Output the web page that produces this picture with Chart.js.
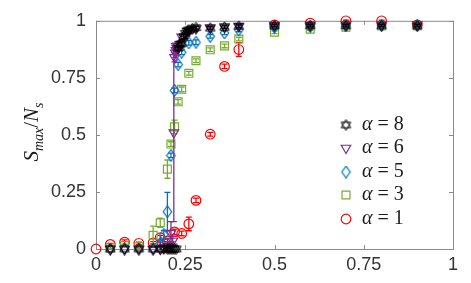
<!DOCTYPE html>
<html>
<head>
<meta charset="utf-8">
<script src="https://cdn.jsdelivr.net/npm/chart.js@4/dist/chart.umd.min.js"></script>
<style>
  html, body { margin: 0; padding: 0; background: #fff; }
  #wrap { width: 471px; height: 283px; }
</style>
</head>
<body>
<div id="wrap"><canvas id="grafico" width="471" height="283"></canvas></div>
<script>
// tick values (both axes)
const ticksX = [0, 0.25, 0.5, 0.75, 1];
const ticksY = [0, 0.25, 0.5, 0.75, 1];

// alpha = 8 (black hexagrams)
const x8 = [0.04, 0.08, 0.12, 0.16, 0.18, 0.19, 0.2, 0.205, 0.21, 0.215, 0.22, 0.225, 0.23, 0.235, 0.24, 0.245, 0.25, 0.255, 0.26, 0.27, 0.28, 0.32, 0.36, 0.4, 0.5, 0.6, 0.7, 0.8, 0.9];
const y8 = [0, 0, 0, 0, 0, 0, 0, 0, 0, 0, 0, 0, 0.88, 0.895, 0.9, 0.93, 0.945, 0.955, 0.96, 0.965, 0.97, 0.968, 0.972, 0.976, 0.978, 0.978, 0.978, 0.978, 0.978];
const e8 = [0, 0, 0, 0, 0, 0, 0, 0, 0, 0, 0, 0, 0.01, 0.01, 0.01, 0.01, 0.022, 0.008, 0.008, 0.006, 0.006, 0.006, 0.006, 0.006, 0.005, 0.005, 0.005, 0.005, 0.005];

// alpha = 6 (purple triangles)
const x6 = [0.04, 0.08, 0.12, 0.16, 0.18, 0.19, 0.2, 0.205, 0.21, 0.215, 0.218, 0.22, 0.222, 0.224, 0.226, 0.228, 0.24, 0.26, 0.28, 0.32, 0.36, 0.4, 0.5, 0.6, 0.7, 0.8, 0.9];
const y6 = [0, 0, 0, 0, 0, 0.005, 0.01, 0.02, 0.07, 0.035, 0.51, 0.84, 0.86, 0.87, 0.88, 0.89, 0.93, 0.955, 0.965, 0.97, 0.975, 0.977, 0.98, 0.982, 0.984, 0.984, 0.984];
const e6 = [0, 0, 0, 0, 0, 0, 0.01, 0.01, 0.05, 0.02, 0.39, 0.02, 0.02, 0.02, 0.02, 0.02, 0.01, 0.01, 0.01, 0.005, 0.005, 0.005, 0.005, 0.005, 0.005, 0.005, 0.005];

// alpha = 5 (blue diamonds)
const x5 = [0.04, 0.08, 0.12, 0.16, 0.18, 0.19, 0.2, 0.21, 0.22, 0.23, 0.24, 0.26, 0.28, 0.32, 0.36, 0.4, 0.5, 0.6, 0.7, 0.8, 0.9];
const y5 = [0, 0, 0, 0, 0.025, 0.062, 0.163, 0.41, 0.695, 0.808, 0.862, 0.903, 0.906, 0.932, 0.947, 0.96, 0.972, 0.975, 0.978, 0.98, 0.98];
const e5 = [0, 0, 0, 0, 0.01, 0.02, 0.085, 0.01, 0.01, 0.01, 0.01, 0.01, 0.01, 0.008, 0.008, 0.008, 0.005, 0.005, 0.005, 0.005, 0.005];

// alpha = 3 (green squares)
const x3 = [0.04, 0.08, 0.12, 0.16, 0.18, 0.2, 0.21, 0.22, 0.23, 0.24, 0.26, 0.28, 0.32, 0.36, 0.4, 0.5, 0.6, 0.7, 0.8, 0.9];
const y3 = [0.005, 0.015, 0.01, 0.06, 0.115, 0.35, 0.46, 0.535, 0.645, 0.7, 0.77, 0.825, 0.873, 0.89, 0.92, 0.95, 0.963, 0.972, 0.978, 0.978];
const e3 = [0.005, 0.005, 0.005, 0.04, 0.02, 0.04, 0.01, 0.03, 0.01, 0.01, 0.008, 0.008, 0.008, 0.008, 0.008, 0.006, 0.005, 0.005, 0.005, 0.005];

// alpha = 1 (red circles)
const x1 = [0, 0.04, 0.08, 0.12, 0.16, 0.18, 0.2, 0.22, 0.24, 0.26, 0.28, 0.32, 0.36, 0.4, 0.5, 0.6, 0.7, 0.8, 0.9];
const y1 = [0, 0.02, 0.03, 0.025, 0.027, 0.05, 0.035, 0.075, 0.068, 0.11, 0.213, 0.503, 0.8, 0.874, 0.982, 0.99, 1.0, 1.0, 0.982];
const e1 = [0, 0.005, 0.01, 0.005, 0.005, 0.01, 0.01, 0.012, 0.01, 0.03, 0.01, 0.008, 0.01, 0.03, 0.005, 0.005, 0.003, 0.003, 0.003];

const corPreto = "#000000", corRoxo = "#7e2f8e", corAzul = "#0072bd", corVerde = "#77ac30", corVermelho = "#ff0000";

function marcador(w, h, desenho) { // cria um pequeno canvas usado como pointStyle
    const c = document.createElement("canvas");
    c.width = w; c.height = h;
    const g = c.getContext("2d");
    desenho(g, w / 2, h / 2);
    return c;
}

const hexagrama = marcador(13, 13, (g, cx, cy) => {
    const r = 5.5;
    g.strokeStyle = corPreto; g.lineWidth = 1;
    [0, Math.PI].forEach(rot => {
        g.beginPath();
        for (let k = 0; k < 3; k++) {
            const a = rot - Math.PI / 2 + k * 2 * Math.PI / 3;
            const px = cx + r * Math.cos(a), py = cy + r * Math.sin(a);
            k === 0 ? g.moveTo(px, py) : g.lineTo(px, py);
        }
        g.closePath();
        g.stroke();
    });
});

const losango = marcador(11, 13, (g, cx, cy) => {
    g.strokeStyle = corAzul; g.lineWidth = 1.2;
    g.beginPath();
    g.moveTo(cx, cy - 5.8); g.lineTo(cx + 4.2, cy); g.lineTo(cx, cy + 5.8); g.lineTo(cx - 4.2, cy);
    g.closePath();
    g.stroke();
});

const pontos = (xs, ys) => xs.map((x, i) => ({ x: x, y: ys[i] }));

const series = [
    { label: "8", data: pontos(x8, y8), err: e8, borderColor: corPreto, pointStyle: hexagrama, pointRadius: 5.5, pointRotation: 0 },
    { label: "6", data: pontos(x6, y6), err: e6, borderColor: corRoxo, pointStyle: "triangle", pointRadius: 5.5, pointRotation: 180 },
    { label: "5", data: pontos(x5, y5), err: e5, borderColor: corAzul, pointStyle: losango, pointRadius: 5.5, pointRotation: 0 },
    { label: "3", data: pontos(x3, y3), err: e3, borderColor: corVerde, pointStyle: "rect", pointRadius: 5.6, pointRotation: 0 },
    { label: "1", data: pontos(x1, y1), err: e1, borderColor: corVermelho, pointStyle: "circle", pointRadius: 4.8, pointRotation: 0 }
];

const barrasErro = {
    id: "barrasErro",
    afterDatasetDraw(chart, args) {
        const ds = chart.data.datasets[args.index];
        if (!ds.err) return;
        const ys = chart.scales.y;
        const ctx = chart.ctx;
        ctx.save();
        ctx.strokeStyle = ds.borderColor;
        ctx.lineWidth = 1.3;
        args.meta.data.forEach((pt, i) => {
            const e = ds.err[i];
            if (!e) return;
            const v = ds.data[i].y;
            const topo = ys.getPixelForValue(v + e), base = ys.getPixelForValue(Math.max(v - e, 0));
            ctx.beginPath();
            ctx.moveTo(pt.x, topo); ctx.lineTo(pt.x, base);
            ctx.moveTo(pt.x - 3, topo); ctx.lineTo(pt.x + 3, topo);
            ctx.moveTo(pt.x - 3, base); ctx.lineTo(pt.x + 3, base);
            ctx.stroke();
        });
        ctx.restore();
    }
};

const moldura = {
    id: "moldura",
    beforeDatasetsDraw(chart) {
        const { ctx, chartArea: a, scales } = chart;
        ctx.save();
        ctx.strokeStyle = "#8a8a8a";
        ctx.lineWidth = 1;
        ctx.strokeRect(a.left + 0.5, a.top + 0.5, a.right - a.left, a.bottom - a.top);
        ctx.beginPath();
        ticksX.forEach(t => {
            const px = Math.round(scales.x.getPixelForValue(t)) + 0.5;
            ctx.moveTo(px, a.bottom); ctx.lineTo(px, a.bottom - 4);
            ctx.moveTo(px, a.top); ctx.lineTo(px, a.top + 4);
        });
        ticksY.forEach(t => {
            const py = Math.round(scales.y.getPixelForValue(t)) + 0.5;
            ctx.moveTo(a.left, py); ctx.lineTo(a.left + 4, py);
            ctx.moveTo(a.right, py); ctx.lineTo(a.right - 4, py);
        });
        ctx.stroke();
        ctx.restore();
    },
    afterDraw(chart) {
        const ctx = chart.ctx;
        ctx.save();
        // rótulo do eixo y: S_max / N_s
        ctx.translate(31, 132);
        ctx.rotate(-Math.PI / 2);
        ctx.fillStyle = "#1a1a1a";
        ctx.textBaseline = "alphabetic";
        const partes = [
            { t: "S", f: "italic 21px 'Liberation Serif'", dy: 0 },
            { t: "max", f: "italic 14px 'Liberation Serif'", dy: 5 },
            { t: "/", f: "21px 'Liberation Serif'", dy: 0 },
            { t: "N", f: "italic 21px 'Liberation Serif'", dy: 0 },
            { t: "s", f: "italic 14px 'Liberation Serif'", dy: 5 }
        ];
        let largura = 0;
        partes.forEach(p => { ctx.font = p.f; p.w = ctx.measureText(p.t).width; largura += p.w; });
        let cx = -largura / 2;
        partes.forEach(p => { ctx.font = p.f; ctx.fillText(p.t, cx, 7 + p.dy); cx += p.w; });
        ctx.restore();

        // legenda
        ctx.save();
        const linhas = [125, 148, 172, 195, 219];
        chart.data.datasets.forEach((ds, i) => {
            const y = linhas[i];
            ctx.strokeStyle = ds.borderColor;
            ctx.fillStyle = "rgba(0,0,0,0)";
            ctx.lineWidth = 1.2;
            Chart.helpers.drawPoint(ctx, { pointStyle: ds.pointStyle, radius: ds.pointRadius, rotation: ds.pointRotation, borderWidth: 1.2 }, 346, y);
            ctx.fillStyle = "#1a1a1a";
            ctx.textBaseline = "middle";
            ctx.font = "italic 20px 'Liberation Serif'";
            ctx.fillText("\u03b1", 362, y);
            const w = ctx.measureText("\u03b1").width;
            ctx.font = "20px 'Liberation Serif'";
            ctx.fillText(" = " + ds.label, 362 + w, y);
        });
        ctx.restore();
    }
};

const ctx = document.getElementById("grafico").getContext("2d");

new Chart(ctx, {
    type: "scatter",
    data: {
        datasets: series.map(s => ({
            label: s.label,
            data: s.data,
            err: s.err,
            borderColor: s.borderColor,
            backgroundColor: "rgba(0,0,0,0)",
            pointStyle: s.pointStyle,
            pointRadius: s.pointRadius,
            pointRotation: s.pointRotation,
            pointBorderWidth: 1.2,
            showLine: false,
            clip: false
        }))
    },
    options: {
        responsive: false,
        animation: false,
        layout: { padding: { top: 11, right: 18, left: 0, bottom: 0 } },
        plugins: { legend: { display: false }, tooltip: { enabled: false } },
        scales: {
            x: {
                type: "linear", min: 0, max: 1,
                afterBuildTicks: s => { s.ticks = ticksX.map(v => ({ value: v })); },
                afterFit: s => { s.height = 34; },
                grid: { display: false, drawTicks: false },
                border: { display: false },
                ticks: { color: "#333", padding: 5, maxRotation: 0, autoSkip: false, callback: v => String(v), font: { family: "'Liberation Sans'", size: 18 } }
            },
            y: {
                type: "linear", min: 0, max: 1,
                afterBuildTicks: s => { s.ticks = ticksY.map(v => ({ value: v })); },
                afterFit: s => { s.width = 96; },
                grid: { display: false, drawTicks: false },
                border: { display: false },
                ticks: { color: "#333", padding: 10, autoSkip: false, callback: v => String(v), font: { family: "'Liberation Sans'", size: 18 } }
            }
        }
    },
    plugins: [barrasErro, moldura]
});
</script>
</body>
</html>
